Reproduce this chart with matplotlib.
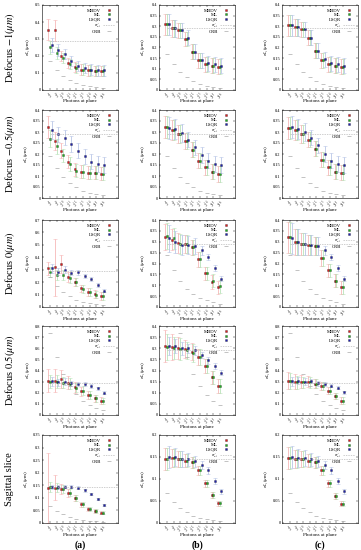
import numpy as np
import matplotlib
matplotlib.use("Agg")
from matplotlib import pyplot as plt

plt.rcParams['font.family'] = ['Liberation Serif', 'DejaVu Serif']
plt.rcParams['mathtext.fontset'] = 'stix'

xt = ['$2^{%d}$' % k for k in range(8, 17)]
rows = ['Defocus $-1(\\mu m)$', 'Defocus $-0.5(\\mu m)$', 'Defocus $0(\\mu m)$',
        'Defocus $0.5(\\mu m)$', 'Sagittal slice']
cols = ['(a)', '(b)', '(c)']

# values per panel: [row][col]
mbdv = [
    [[0.355, 0.35, 0.20, 0.16, 0.135, 0.12, 0.115, 0.11, 0.11],
     [0.31, 0.29, 0.28, 0.24, 0.18, 0.14, 0.12, 0.115, 0.11],
     [0.305, 0.295, 0.285, 0.245, 0.185, 0.14, 0.12, 0.115, 0.11]],
    [[0.325, 0.26, 0.215, 0.165, 0.13, 0.12, 0.115, 0.115, 0.11],
     [0.325, 0.31, 0.29, 0.26, 0.22, 0.17, 0.14, 0.12, 0.11],
     [0.32, 0.31, 0.29, 0.265, 0.225, 0.175, 0.14, 0.12, 0.115]],
    [[0.31, 0.32, 0.345, 0.24, 0.20, 0.15, 0.12, 0.105, 0.09],
     [0.32, 0.31, 0.295, 0.29, 0.275, 0.22, 0.155, 0.115, 0.09],
     [0.32, 0.30, 0.29, 0.285, 0.28, 0.225, 0.17, 0.12, 0.09]],
    [[0.31, 0.31, 0.325, 0.29, 0.25, 0.215, 0.18, 0.15, 0.13],
     [0.31, 0.305, 0.30, 0.295, 0.285, 0.26, 0.22, 0.17, 0.13],
     [0.31, 0.30, 0.30, 0.30, 0.28, 0.26, 0.22, 0.17, 0.13]],
    [[0.14, 0.14, 0.135, 0.12, 0.10, 0.075, 0.057, 0.047, 0.04],
     [0.145, 0.148, 0.145, 0.142, 0.138, 0.12, 0.09, 0.063, 0.045],
     [0.147, 0.146, 0.145, 0.142, 0.138, 0.12, 0.09, 0.062, 0.044]],
]
ml = [
    [[0.25, 0.22, 0.19, 0.155, 0.13, 0.12, 0.115, 0.11, 0.11],
     [0.31, 0.29, 0.28, 0.24, 0.18, 0.14, 0.12, 0.115, 0.11],
     [0.305, 0.295, 0.285, 0.245, 0.185, 0.14, 0.12, 0.115, 0.11]],
    [[0.27, 0.235, 0.195, 0.155, 0.125, 0.12, 0.115, 0.115, 0.11],
     [0.325, 0.31, 0.29, 0.26, 0.22, 0.17, 0.14, 0.12, 0.11],
     [0.32, 0.31, 0.29, 0.265, 0.225, 0.175, 0.14, 0.12, 0.115]],
    [[0.285, 0.26, 0.26, 0.23, 0.20, 0.145, 0.12, 0.10, 0.09],
     [0.325, 0.315, 0.29, 0.29, 0.275, 0.22, 0.155, 0.12, 0.095],
     [0.32, 0.30, 0.29, 0.285, 0.28, 0.225, 0.17, 0.12, 0.09]],
    [[0.30, 0.30, 0.29, 0.28, 0.245, 0.22, 0.18, 0.15, 0.125],
     [0.305, 0.30, 0.295, 0.29, 0.28, 0.26, 0.22, 0.17, 0.13],
     [0.305, 0.295, 0.295, 0.295, 0.28, 0.26, 0.22, 0.17, 0.13]],
    [[0.145, 0.14, 0.135, 0.12, 0.098, 0.075, 0.057, 0.047, 0.04],
     [0.145, 0.148, 0.145, 0.142, 0.138, 0.12, 0.09, 0.063, 0.045],
     [0.147, 0.146, 0.145, 0.142, 0.138, 0.12, 0.09, 0.062, 0.044]],
]
lsqr = [
    [[0.265, 0.235, 0.21, 0.17, 0.14, 0.13, 0.12, 0.115, 0.115],
     [0.31, 0.29, 0.28, 0.245, 0.18, 0.14, 0.125, 0.12, 0.115],
     [0.305, 0.295, 0.285, 0.245, 0.185, 0.145, 0.125, 0.12, 0.115]],
    [[0.31, 0.29, 0.275, 0.245, 0.215, 0.19, 0.165, 0.155, 0.15],
     [0.32, 0.315, 0.295, 0.265, 0.23, 0.195, 0.17, 0.155, 0.15],
     [0.325, 0.315, 0.30, 0.275, 0.24, 0.20, 0.17, 0.155, 0.15]],
    [[0.31, 0.285, 0.30, 0.275, 0.28, 0.25, 0.225, 0.175, 0.13],
     [0.315, 0.30, 0.285, 0.285, 0.28, 0.26, 0.23, 0.18, 0.13],
     [0.315, 0.30, 0.29, 0.285, 0.28, 0.26, 0.23, 0.18, 0.13]],
    [[0.305, 0.295, 0.30, 0.285, 0.28, 0.28, 0.26, 0.24, 0.20],
     [0.31, 0.31, 0.30, 0.30, 0.29, 0.27, 0.245, 0.22, 0.19],
     [0.305, 0.31, 0.30, 0.305, 0.285, 0.28, 0.265, 0.245, 0.205]],
    [[0.145, 0.145, 0.145, 0.145, 0.14, 0.13, 0.115, 0.095, 0.072],
     [0.15, 0.15, 0.145, 0.145, 0.14, 0.132, 0.12, 0.095, 0.072],
     [0.15, 0.148, 0.148, 0.145, 0.14, 0.132, 0.12, 0.095, 0.072]],
]
# error half-widths
err_mbdv = [
    [[0.06, 0.06, 0.03, 0.03, 0.03, 0.03, 0.03, 0.03, 0.03],
     [0.05, 0.04, 0.035, 0.035, 0.035, 0.035, 0.035, 0.035, 0.035],
     [0.05, 0.04, 0.035, 0.035, 0.035, 0.035, 0.035, 0.035, 0.035]],
    [[0.05, 0.04, 0.035, 0.03, 0.03, 0.03, 0.03, 0.03, 0.03],
     [0.05, 0.045, 0.04, 0.035, 0.035, 0.035, 0.035, 0.035, 0.035],
     [0.05, 0.045, 0.04, 0.035, 0.035, 0.035, 0.035, 0.035, 0.035]],
    [[0.05, 0.23, 0.07, 0.04, 0.03, 0.03, 0.03, 0.03, 0.03],
     [0.06, 0.05, 0.045, 0.04, 0.035, 0.035, 0.03, 0.03, 0.03],
     [0.07, 0.06, 0.05, 0.045, 0.04, 0.035, 0.03, 0.03, 0.03]],
    [[0.1, 0.1, 0.08, 0.06, 0.05, 0.04, 0.035, 0.03, 0.03],
     [0.07, 0.06, 0.05, 0.04, 0.04, 0.035, 0.03, 0.03, 0.03],
     [0.08, 0.07, 0.06, 0.05, 0.04, 0.035, 0.03, 0.03, 0.03]],
    [[0.14, 0.05, 0.02, 0.015, 0.012, 0.01, 0.008, 0.007, 0.006],
     [0.025, 0.02, 0.018, 0.015, 0.012, 0.01, 0.008, 0.007, 0.006],
     [0.025, 0.02, 0.018, 0.015, 0.012, 0.01, 0.008, 0.007, 0.006]],
]
err_ml = [
    [[0.04, 0.035, 0.03, 0.03, 0.03, 0.03, 0.03, 0.03, 0.03],
     [0.05, 0.04, 0.035, 0.035, 0.035, 0.035, 0.035, 0.035, 0.035],
     [0.05, 0.04, 0.035, 0.035, 0.035, 0.035, 0.035, 0.035, 0.035]],
    [[0.04, 0.035, 0.03, 0.03, 0.03, 0.03, 0.03, 0.03, 0.03],
     [0.05, 0.045, 0.04, 0.035, 0.035, 0.035, 0.035, 0.035, 0.035],
     [0.05, 0.045, 0.04, 0.035, 0.035, 0.035, 0.035, 0.035, 0.035]],
    [[0.04, 0.04, 0.04, 0.035, 0.03, 0.03, 0.03, 0.03, 0.03],
     [0.06, 0.05, 0.045, 0.04, 0.035, 0.035, 0.03, 0.03, 0.03],
     [0.07, 0.06, 0.05, 0.045, 0.04, 0.035, 0.03, 0.03, 0.03]],
    [[0.06, 0.06, 0.05, 0.05, 0.04, 0.04, 0.035, 0.03, 0.03],
     [0.06, 0.05, 0.05, 0.04, 0.04, 0.035, 0.03, 0.03, 0.03],
     [0.07, 0.06, 0.05, 0.05, 0.04, 0.035, 0.03, 0.03, 0.03]],
    [[0.02, 0.018, 0.016, 0.014, 0.012, 0.01, 0.008, 0.007, 0.006],
     [0.025, 0.02, 0.018, 0.015, 0.012, 0.01, 0.008, 0.007, 0.006],
     [0.025, 0.02, 0.018, 0.015, 0.012, 0.01, 0.008, 0.007, 0.006]],
]
err_lsqr = [
    [[0.04, 0.035, 0.03, 0.03, 0.03, 0.03, 0.03, 0.03, 0.03],
     [0.05, 0.04, 0.035, 0.035, 0.035, 0.035, 0.035, 0.035, 0.035],
     [0.05, 0.04, 0.035, 0.035, 0.035, 0.035, 0.035, 0.035, 0.035]],
    [[0.04, 0.035, 0.035, 0.035, 0.035, 0.035, 0.035, 0.035, 0.035],
     [0.05, 0.045, 0.04, 0.035, 0.035, 0.035, 0.035, 0.035, 0.035],
     [0.05, 0.045, 0.04, 0.035, 0.035, 0.035, 0.035, 0.035, 0.035]],
    [[0.04, 0.03, 0.03, 0.02, 0.02, 0.015, 0.015, 0.015, 0.012],
     [0.06, 0.05, 0.045, 0.04, 0.035, 0.02, 0.015, 0.015, 0.012],
     [0.07, 0.06, 0.05, 0.045, 0.04, 0.02, 0.015, 0.015, 0.012]],
    [[0.04, 0.03, 0.03, 0.02, 0.02, 0.015, 0.015, 0.015, 0.012],
     [0.04, 0.03, 0.03, 0.02, 0.02, 0.015, 0.015, 0.015, 0.012],
     [0.04, 0.03, 0.03, 0.02, 0.02, 0.015, 0.015, 0.015, 0.012]],
    [[0.008, 0.008, 0.007, 0.007, 0.006, 0.006, 0.005, 0.005, 0.004],
     [0.025, 0.02, 0.018, 0.015, 0.012, 0.01, 0.008, 0.007, 0.006],
     [0.025, 0.02, 0.018, 0.015, 0.012, 0.01, 0.008, 0.007, 0.006]],
]
crb = [
    [0.17, 0.12, 0.085, 0.06, 0.042, 0.03, 0.021, 0.015, 0.011],
    [0.19, 0.135, 0.095, 0.067, 0.048, 0.034, 0.024, 0.017, 0.012],
    [0.24, 0.17, 0.12, 0.085, 0.06, 0.042, 0.03, 0.021, 0.015],
    [0.74, 0.52, 0.37, 0.26, 0.185, 0.13, 0.092, 0.065, 0.046],
    [0.068, 0.047, 0.034, 0.024, 0.017, 0.012, 0.0085, 0.006, 0.004],
]
gt = [0.29, 0.29, 0.29, 0.29, 0.145]
ymax = [[0.5, 0.4, 0.4], [0.4, 0.4, 0.4], [0.7, 0.4, 0.4], [0.8, 0.4, 0.8], [0.35, 0.2, 0.2]]
ystep = [[0.1, 0.05, 0.05], [0.05, 0.05, 0.05], [0.1, 0.05, 0.05], [0.1, 0.05, 0.1], [0.05, 0.05, 0.05]]

W, H = 361, 550
fig = plt.figure(figsize=(W / 100, H / 100), dpi=100)
colx = [42, 159, 282]
rowy = [(5, 90), (110, 198), (220, 307), (326, 415), (435, 523)]
aw = 76
x = np.arange(9)
sty = [('MBDV', '#e41a1c', '#f4a6a6', -0.25),
       ('ML', '#1fb51f', '#a8dca8', 0.0),
       ('LSQR', '#1f1fb4', '#a8b8e0', 0.25)]

for r in range(5):
    t, b = rowy[r]
    for c in range(3):
        ax = fig.add_axes([colx[c] / W, 1 - b / H, aw / W, (b - t) / H])
        data = [mbdv[r][c], ml[r][c], lsqr[r][c]]
        errs = [err_mbdv[r][c], err_ml[r][c], err_lsqr[r][c]]
        hs = []
        for (lab, col, ecol, off), d, e in zip(sty, data, errs):
            ax.errorbar(x + off, d, yerr=e, fmt='none', ecolor=ecol, elinewidth=0.6,
                        capsize=1.2, capthick=0.4, alpha=0.8)
            h, = ax.plot(x + off, d, 's', color=col, ms=1.4, mec='k', mew=0.2, label=lab)
            hs.append(h)
        h1 = ax.hlines(gt[r], 0, 10.3, colors='#bbbbbb', linestyles=(0, (2, 1.5)), lw=0.5,
                       label=r'$\sigma_{\hat{L}_1}$')
        h2, = ax.plot(x, crb[r], '_', color='#aaaaaa', ms=3, mew=0.5, label='CRB')
        ax.set_xlim(-1.2, 10.3)
        ax.set_ylim(0, ymax[r][c])
        ax.set_yticks(np.arange(0, ymax[r][c] + 1e-9, ystep[r][c]))
        ax.yaxis.set_major_formatter(matplotlib.ticker.FuncFormatter(lambda v, p: ('%g' % round(v, 3))))
        ax.set_xticks(x)
        ax.set_xticklabels(xt, rotation=45, ha='right', rotation_mode='anchor')
        ax.tick_params(direction='in', length=1.2, width=0.3, labelsize=3.2, pad=1,
                       top=True, right=True)
        ax.tick_params(axis='x', pad=0.6, labelsize=2.7)
        for s in ax.spines.values():
            s.set_linewidth(0.4)
        ax.set_xlabel('Photons at plane', fontsize=3.6)
        ax.xaxis.set_label_coords(0.5, -0.11)
        ax.set_ylabel(r'$\sigma_{\hat{L}_1}$($\mu$m)', fontsize=3.6, labelpad=1.5)
        ax.legend(handles=hs + [h1, h2], loc='upper right', fontsize=3.4, frameon=False,
                  markerfirst=False, handlelength=2.4, handletextpad=0.5,
                  labelspacing=0.05, borderaxespad=0.3)
        if c == 0:
            fig.text(10 / W, 1 - (t + b) / 2 / H, rows[r], rotation=90, fontsize=7.5,
                     ha='center', va='center')
        if r == 4:
            fig.text((colx[c] + aw / 2) / W, 1 - 545.5 / H, cols[c], fontsize=7,
                     fontweight='bold', ha='center', va='center')

fig.savefig('out.png', dpi=100)
